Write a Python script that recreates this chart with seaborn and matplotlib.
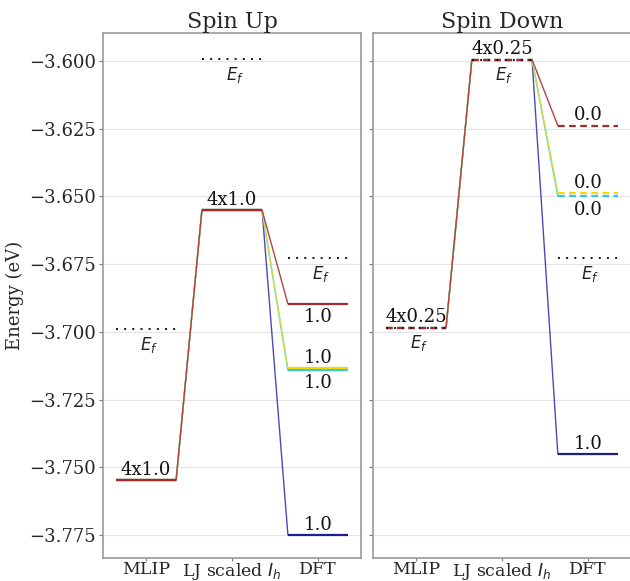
import matplotlib
matplotlib.use("Agg")
import matplotlib.pyplot as plt
import matplotlib.ticker as mticker
import seaborn as sns
import numpy as np

# Stages along the x axis
stages = ["MLIP", "LJ scaled $I_h$", "DFT"]

# Orbital colours (level colour, connector colour)
orbital_names = ["blue", "cyan", "yellow", "red"]
level_colors = ["#1c1c96", "#2ec6f0", "#f5d800", "#a52a2a"]
link_colors = ["#4a4ab8", "#40d0f0", "#c8e040", "#b04444"]

# Spin up energies (eV) per orbital: [MLIP, LJ, DFT]
up_blue = [-3.7548, -3.6551, -3.7750]
up_cyan = [-3.7548, -3.6551, -3.7142]
up_yellow = [-3.7548, -3.6551, -3.7135]
up_red = [-3.7548, -3.6551, -3.6897]
up_fermi = [-3.6990, -3.5993, -3.6728]

# Spin down energies (eV) per orbital: [MLIP, LJ, DFT]
down_blue = [-3.6985, -3.5995, -3.7452]
down_cyan = [-3.6985, -3.5995, -3.6500]
down_yellow = [-3.6985, -3.5995, -3.6489]
down_red = [-3.6985, -3.5995, -3.6239]
down_fermi = [-3.6985, -3.5995, -3.6728]

# Occupations per orbital: [MLIP, LJ, DFT]
up_occ_blue = [1.0, 1.0, 1.0]
up_occ_cyan = [1.0, 1.0, 1.0]
up_occ_yellow = [1.0, 1.0, 1.0]
up_occ_red = [1.0, 1.0, 1.0]
down_occ_blue = [0.25, 0.25, 1.0]
down_occ_cyan = [0.25, 0.25, 0.0]
down_occ_yellow = [0.25, 0.25, 0.0]
down_occ_red = [0.25, 0.25, 0.0]

# Occupation labels: (stage, energy, text, above?)
up_labels = [
    (0, up_red[0], "4x1.0", True),
    (1, up_red[1], "4x1.0", True),
    (2, up_red[2], "1.0", False),
    (2, up_yellow[2], "1.0", True),
    (2, up_cyan[2], "1.0", False),
    (2, up_blue[2], "1.0", True),
]
down_labels = [
    (0, down_red[0], "4x0.25", True),
    (1, down_red[1], "4x0.25", True),
    (2, down_red[2], "0.0", True),
    (2, down_yellow[2], "0.0", True),
    (2, down_cyan[2], "0.0", False),
    (2, down_blue[2], "1.0", True),
]

sns.set_theme(style="whitegrid")
plt.rcParams["font.family"] = ["DejaVu Serif"]
plt.rcParams["mathtext.fontset"] = "dejavusans"
plt.rcParams["axes.unicode_minus"] = True

fig = plt.figure(figsize=(6.30, 5.81), dpi=100)
ax_up = fig.add_axes([0.1635, 0.0396, 0.4095, 0.9031])
ax_dn = fig.add_axes([0.5920, 0.0396, 0.4095, 0.9031], sharey=ax_up)

HALF = 0.35


def draw_panel(ax, energies, occs, fermi, labels, title):
    # connectors between consecutive stages
    for e, c in zip(energies, link_colors):
        for i in range(len(stages) - 1):
            ax.plot([i + HALF, i + 1 - HALF], [e[i], e[i + 1]],
                    color=c, lw=1.0, zorder=2)
    # energy levels
    for e, o, c in zip(energies, occs, level_colors):
        for i in range(len(stages)):
            ls = "-" if o[i] >= 0.5 else (0, (3, 2))
            ax.plot([i - HALF, i + HALF], [e[i], e[i]], color=c, lw=1.6,
                    ls=ls, zorder=3, solid_capstyle="butt")
    # Fermi levels
    for i, ef in enumerate(fermi):
        ax.plot([i - HALF, i + HALF], [ef, ef], color="#111133", lw=1.4,
                ls=(0, (1, 3.2)), zorder=4)
        ax.annotate("$E_f$", (i + 0.03, ef), xytext=(0, -4),
                    textcoords="offset points", ha="center", va="top",
                    fontsize=12, color="#222222")
    # occupation labels
    for i, e, txt, above in labels:
        ax.annotate(txt, (i, e), xytext=(0, 1 if above else -3),
                    textcoords="offset points", ha="center",
                    va="bottom" if above else "top", fontsize=13,
                    color="#111111")
    ax.set_xticks(range(len(stages)))
    ax.set_xticklabels(stages, fontsize=12.5)
    ax.set_xlim(-0.5, 2.5)
    ax.set_title(title, fontsize=16, pad=4)
    ax.grid(axis="x", visible=False)
    ax.grid(axis="y", color="#e4e4e4", lw=0.8)
    for sp in ax.spines.values():
        sp.set_color("#999999")
        sp.set_linewidth(1.2)
    ax.tick_params(axis="both", which="major", length=3, width=0.8,
                   color="#777777", labelsize=13, pad=2,
                   bottom=True, left=True)
    ax.tick_params(axis="x", length=2.5, pad=0, labelsize=12.5)


draw_panel(ax_up, [up_blue, up_cyan, up_yellow, up_red],
           [up_occ_blue, up_occ_cyan, up_occ_yellow, up_occ_red],
           up_fermi, up_labels, "Spin Up")
draw_panel(ax_dn, [down_blue, down_cyan, down_yellow, down_red],
           [down_occ_blue, down_occ_cyan, down_occ_yellow, down_occ_red],
           down_fermi, down_labels, "Spin Down")

ax_up.set_ylim(-3.7835, -3.5898)
ax_up.set_yticks(np.arange(-3.775, -3.5999, 0.025))
ax_up.yaxis.set_major_formatter(
    mticker.FuncFormatter(lambda v, p: f"{v:.3f}".replace("-", "\u2212")))
ax_up.set_ylabel("Energy (eV)", fontsize=13, labelpad=4)
ax_dn.tick_params(axis="y", labelleft=False)

fig.savefig("out.png", dpi=100)
